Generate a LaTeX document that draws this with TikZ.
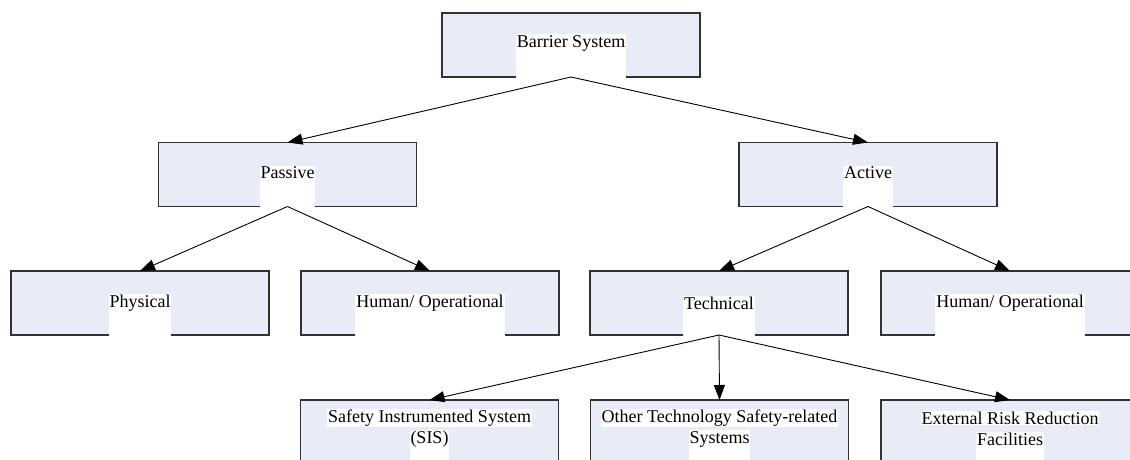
\documentclass[tikz,border=0pt]{standalone}
\usepackage{fontspec}
\setmainfont{Liberation Serif}
\usetikzlibrary{arrows.meta}
\definecolor{boxfill}{RGB}{232,236,247}
\definecolor{boxline}{RGB}{50,50,50}
\tikzset{
  unit/.style={draw=boxline, line width=1.3pt, fill=boxfill, minimum width=258pt,
               minimum height=64pt, inner sep=0pt, outer sep=0pt},
  tag/.style={fill=white, inner sep=0.8pt, outer sep=0pt, font=\fontsize{18}{20}\selectfont},
  link/.style={-{Triangle[length=15pt,width=11pt]}, line width=0.9pt, black},
}
% white strip under a label, running down to the bottom edge of its box
\newcommand\tagstrip[2]{\fill[white] (#1.south west) rectangle ([yshift=-1pt]#1.east |- #2.south);}
\begin{document}
\begin{tikzpicture}[x=1pt,y=-1pt]
\useasboundingbox (0,0) rectangle (1130,459);
\clip (0,0) rectangle (1130,459);

% boxes
\node[unit] (bs)  at (571,45)    {};
\node[unit] (pa)  at (287.5,174.5) {};
\node[unit] (ac)  at (868,174.5) {};
\node[unit] (ph)  at (140,303)   {};
\node[unit] (hl)  at (430,303)   {};
\node[unit] (te)  at (719,303)   {};
\node[unit] (hr)  at (1010,303)  {};
\node[unit] (sis) at (429.5,432) {};
\node[unit] (ot)  at (719.5,432) {};
\node[unit] (ex)  at (1010,432)  {};

% labels
\node[tag] (bsT) at (571,43) {Barrier System}; \tagstrip{bsT}{bs}
\node[tag] (paT) at (287.5,173) {Passive}; \tagstrip{paT}{pa}
\node[tag] (acT) at (868,173) {Active}; \tagstrip{acT}{ac}
\node[tag] (phT) at (140,303) {Physical}; \tagstrip{phT}{ph}
\node[tag] (hlT) at (430,303) {Human/ Operational}; \tagstrip{hlT}{hl}
\node[tag] (teT) at (719,303) {Technical}; \tagstrip{teT}{te}
\node[tag] (hrT) at (1010,303) {Human/ Operational}; \tagstrip{hrT}{hr}
\node[tag] (sisA) at (429.5,418) {Safety Instrumented System};
\node[tag] (sisB) at (429.5,439) {(SIS)}; \tagstrip{sisB}{sis}
\node[tag] (otA) at (719.5,418) {Other Technology Safety-related};
\node[tag] (otB) at (719.5,439) {Systems}; \tagstrip{otB}{ot}
\node[tag] (exA) at (1010,418) {External Risk Reduction};
\node[tag] (exB) at (1010,439) {Facilities}; \tagstrip{exB}{ex}

% connectors
\draw[link] (bs.south) -- (pa.north);
\draw[link] (bs.south) -- (ac.north);
\draw[link] (pa.south) -- (ph.north);
\draw[link] (pa.south) -- (hl.north);
\draw[link] (ac.south) -- (te.north);
\draw[link] (ac.south) -- (hr.north);
\draw[link] (te.south) -- (sis.north);
\draw[link] (te.south) -- (ot.north);
\draw[link] (te.south) -- (ex.north);
\end{tikzpicture}
\end{document}
